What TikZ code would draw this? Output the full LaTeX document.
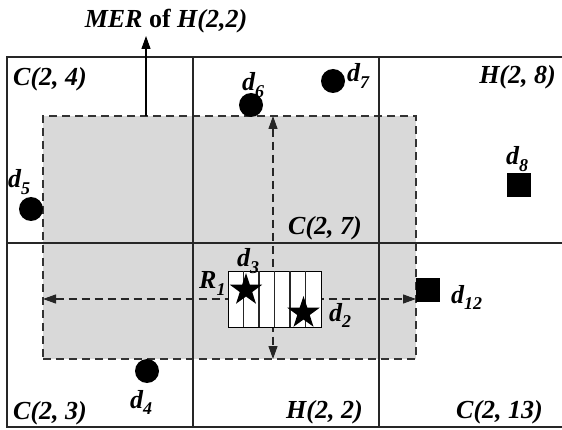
\documentclass[tikz,border=0pt]{standalone}
\usepackage{fontspec}
\setmainfont{Liberation Serif}
\usetikzlibrary{arrows.meta,shapes.geometric}
\newcommand\mysub[1]{\raisebox{-0.26em}{\fontsize{18}{18}\selectfont #1}}
\begin{document}
\begin{tikzpicture}[x=1pt,y=-1pt,
  lbl/.style={font=\fontsize{26}{30}\selectfont\bfseries\itshape, inner sep=0pt},
  frame/.style={line width=1.6pt, draw=black!85},
  merbox/.style={draw=black!80, line width=1.1pt, dash pattern=on 8pt off 5pt, fill=black!15, inner sep=0pt},
  dasharrow/.style={line width=1.1pt, draw=black!85, dash pattern=on 8pt off 5pt, {Triangle[length=13pt,width=9pt]}-{Triangle[length=13pt,width=9pt]}},
  solidarrow/.style={line width=1.1pt, -{Triangle[length=13pt,width=9pt]}},
  regionbox/.style={draw=black, line width=0.9pt, fill=white, inner sep=0pt},
  stripe/.style={line width=1.5pt, draw=black!85},
  starmark/.style={star, star points=5, star point ratio=2.6, fill=black, inner sep=0pt, minimum size=34pt},
  dot/.style={circle, fill=black, inner sep=0pt, minimum size=24pt},
  sq/.style={rectangle, fill=black, inner sep=0pt, minimum size=24pt}
]
\useasboundingbox (0,0) rectangle (562,430);
\clip (0,0) rectangle (562,430);
% MER region
\node[merbox, minimum width=373pt, minimum height=243pt] (mer) at (229.5,237.5) {};
% grid
\draw[frame] (570,57) -- (7,57) -- (7,427) -- (570,427);
\draw[frame] (193,57) -- (193,427);
\draw[frame] (379,57) -- (379,427);
\draw[frame] (7,243) -- (570,243);
% title and arrow
\node[lbl, anchor=base] (mertxt) at (166,28) {MER {\upshape of} H(2,2)};
\coordinate (mbase) at (146,116);
\coordinate (mtip) at (146,36);
\draw[solidarrow] (mbase) -- (mtip);
% dashed arrows
\coordinate (vt) at (273,116);
\coordinate (vb) at (273,359);
\coordinate (hl) at (43,299);
\coordinate (hr) at (416,299);
\draw[dasharrow] (vt) -- (vb);
\draw[dasharrow] (hl) -- (hr);
% region R1
\node[regionbox, minimum width=93pt, minimum height=56pt] (r1) at (274.5,299) {};
\foreach \x in {243.5,259,274.5,290,305.5} \draw[stripe] (\x,271.5) -- (\x,326.5);
\node[starmark] (s3) at (246,290) {};
\node[starmark] (s2) at (303.5,313) {};
% points
\node[dot] (p5) at (31,209) {};
\node[dot] (p6) at (251,105) {};
\node[dot] (p7) at (333,81) {};
\node[dot] (p4) at (147,371) {};
\node[sq] (p8) at (519,185) {};
\node[sq] (p12) at (428,290) {};
% point labels
\node[lbl, anchor=base west] (l5) at (8,188) {d\mysub{5}};
\node[lbl, anchor=base west] (l6) at (242,91) {d\mysub{6}};
\node[lbl, anchor=base west] (l7) at (347,82) {d\mysub{7}};
\node[lbl, anchor=base west] (l8) at (506,165) {d\mysub{8}};
\node[lbl, anchor=base west] (l12) at (451,303) {d\mysub{12}};
\node[lbl, anchor=base west] (l2) at (329,321) {d\mysub{2}};
\node[lbl, anchor=base west] (l3) at (237,267) {d\mysub{3}};
\node[lbl, anchor=base west] (lr) at (199,289) {R\mysub{1}};
\node[lbl, anchor=base west] (l4) at (130,408) {d\mysub{4}};
% cell labels
\node[lbl, anchor=base west] (c24) at (13,86) {C(2, 4)};
\node[lbl, anchor=base east] (h28) at (556,84) {H(2, 8)};
\node[lbl, anchor=base west] (c27) at (288,235) {C(2, 7)};
\node[lbl, anchor=base west] (c23) at (13,419) {C(2, 3)};
\node[lbl, anchor=base west] (h22) at (286,418) {H(2, 2)};
\node[lbl, anchor=base west] (c213) at (456,418) {C(2, 13)};
\end{tikzpicture}
\end{document}
